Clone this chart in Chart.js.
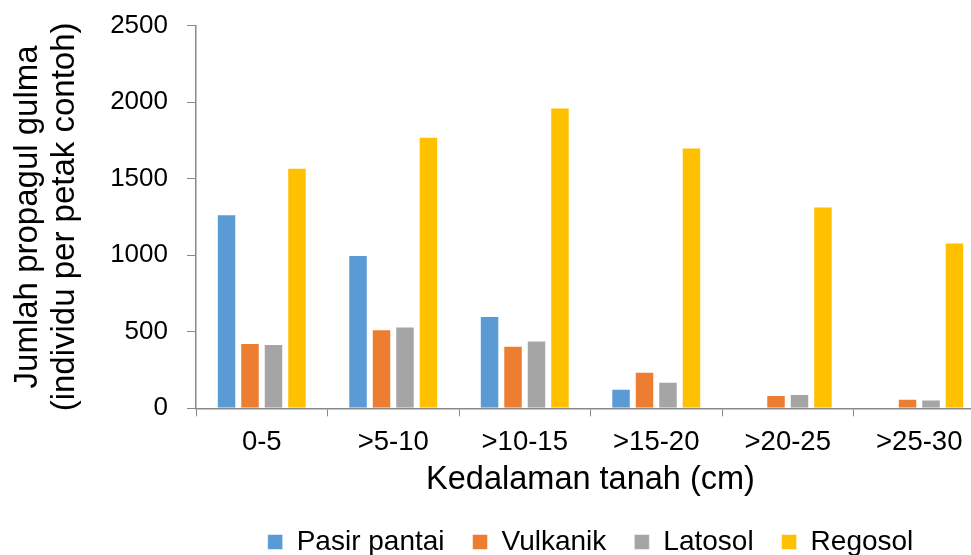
<!DOCTYPE html>
<html>
<head>
<meta charset="utf-8">
<script src="https://cdn.jsdelivr.net/npm/chart.js@4"></script>
<style>
  html, body { margin: 0; padding: 0; background: #fff; overflow: hidden; }
  #wrap { width: 971px; height: 555px; overflow: hidden; }
</style>
</head>
<body>
<div id="wrap"><canvas id="chart" width="985" height="566"></canvas></div>
<script>
// Data
const depths = ["0-5", ">5-10", ">10-15", ">15-20", ">20-25", ">25-30"];
const pasirPantai = [1268, 1001, 602, 128, 5, 5];
const vulkanik = [426, 516, 409, 239, 87, 63];
const latosol = [420, 535, 442, 174, 93, 57];
const regosol = [1571, 1773, 1965, 1704, 1318, 1083];
const yTicks = [0, 500, 1000, 1500, 2000, 2500];

const fontFamily = "'Liberation Sans', Arial, sans-serif";
const axisColor = "#898989";

function makeDataset(label, values, color) {
  return {
    label: label,
    data: values,
    backgroundColor: color,
    borderColor: "rgba(255,255,255,0.5)",
    borderWidth: 1,
    borderSkipped: "bottom",
    categoryPercentage: 0.714,
    barPercentage: 0.83,
  };
}

const canvas = document.getElementById("chart");
const chart = new Chart(canvas, {
  type: "bar",
  data: {
    labels: depths,
    datasets: [
      makeDataset("Pasir pantai", pasirPantai, "#5B9BD5"),
      makeDataset("Vulkanik", vulkanik, "#ED7D31"),
      makeDataset("Latosol", latosol, "#A5A5A5"),
      makeDataset("Regosol", regosol, "#FFC000"),
    ],
  },
  options: {
    responsive: false,
    animation: false,
    devicePixelRatio: 1,
    layout: {
      padding: { left: 0, right: 0, top: 3, bottom: 0 },
    },
    plugins: {
      tooltip: { enabled: false },
      legend: {
        position: "bottom",
        fullSize: false,
        labels: {
          color: "#000",
          font: { family: fontFamily, size: 28 },
          boxWidth: 15,
          boxHeight: 15,
          padding: 28,
        },
      },
    },
    scales: {
      x: {
        grid: {
          offset: true,
          drawOnChartArea: false,
          color: axisColor,
          tickLength: 8,
        },
        border: { color: axisColor, width: 1.5 },
        ticks: {
          color: "#000",
          font: { family: fontFamily, size: 27.5, lineHeight: 1 },
          padding: 12,
          maxRotation: 0,
        },
        title: {
          display: true,
          text: "Kedalaman tanah (cm)",
          color: "#000",
          font: { family: fontFamily, size: 32.5, lineHeight: 1 },
          padding: { top: 0, bottom: 4 },
        },
        afterFit: function (scale) {
          scale.height = 91.7;
        },
      },
      y: {
        min: 0,
        max: 2500,
        afterBuildTicks: function (scale) {
          scale.ticks = yTicks.map((v) => ({ value: v }));
        },
        grid: {
          drawOnChartArea: false,
          color: axisColor,
          tickLength: 9,
        },
        border: { color: axisColor, width: 1.5 },
        ticks: {
          color: "#000",
          font: { family: fontFamily, size: 26, lineHeight: 0.5 },
          padding: 19,
          callback: function (value) {
            return String(value);
          },
        },
        title: {
          display: true,
          text: ["Jumlah propagul gulma", "(individu per petak contoh)"],
          color: "#000",
          font: { family: fontFamily, size: 33, lineHeight: 1.12 },
          padding: { top: 9.5, bottom: 0 },
        },
        afterFit: function (scale) {
          scale.width = 196;
        },
      },
    },
  },
});
</script>
</body>
</html>
